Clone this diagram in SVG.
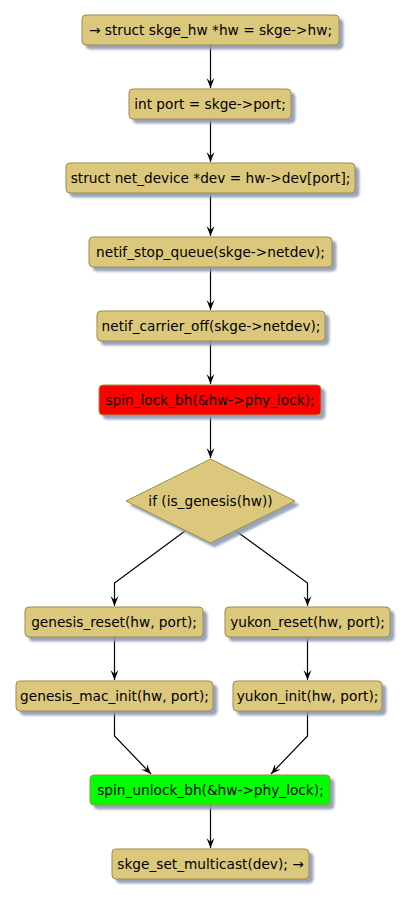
<svg xmlns="http://www.w3.org/2000/svg" width="408" height="898" viewBox="0 0 408 898">
<defs>
<filter id="sh" x="-10%" y="-20%" width="130%" height="160%">
<feGaussianBlur in="SourceAlpha" stdDeviation="1" result="b"/>
<feOffset in="b" dx="4" dy="4" result="o"/>
<feFlood flood-color="#8E9BB4" flood-opacity="0.9"/>
<feComposite in2="o" operator="in" result="s"/>
<feMerge><feMergeNode in="s"/><feMergeNode in="SourceGraphic"/></feMerge>
</filter>
<marker id="ah" viewBox="0 0 10 10" refX="10" refY="5" markerWidth="10" markerHeight="10" markerUnits="userSpaceOnUse" orient="auto">
<path d="M0,1 L10,5 L0,9 L4,5 Z" fill="#000"/>
</marker>
</defs>
<style>
.n{fill:#DCC87C;stroke:#A08B46;stroke-width:1;filter:url(#sh)}
.r{fill:#FF0000}
.g{fill:#00FF00}
text{font-family:"DejaVu Sans",sans-serif;font-size:13.7px;fill:#000;text-anchor:middle}
.c{stroke:#000;stroke-width:1.2;fill:none;marker-end:url(#ah)}
</style>
<rect width="408" height="898" fill="#fff"/>
<g id="connectors">
<path class="c" d="M210.5,45 V88"/>
<path class="c" d="M210.5,119 V162"/>
<path class="c" d="M210.5,193 V236"/>
<path class="c" d="M210.5,267 V310"/>
<path class="c" d="M210.5,341 V384"/>
<path class="c" d="M210.5,415 V458"/>
<path class="c" d="M185,531 L114.5,583 V606"/>
<path class="c" d="M236,531 L307.5,583 V606"/>
<path class="c" d="M114.5,637 V680"/>
<path class="c" d="M307.5,637 V680"/>
<path class="c" d="M114.5,711 V736 L151,774"/>
<path class="c" d="M307.5,711 V736 L271,774"/>
<path class="c" d="M210.5,805 V848"/>
</g>
<g id="n1"><rect class="n" x="82" y="15" width="257" height="30" rx="4"/><text x="210.5" y="35">→ struct skge_hw *hw = skge-&gt;hw;</text></g>
<g id="n2"><rect class="n" x="129" y="89" width="162" height="30" rx="4"/><text x="210" y="109">int port = skge-&gt;port;</text></g>
<g id="n3"><rect class="n" x="66" y="163" width="289" height="30" rx="4"/><text x="210.5" y="183">struct net_device *dev = hw-&gt;dev[port];</text></g>
<g id="n4"><rect class="n" x="89" y="237" width="243" height="30" rx="4"/><text x="210.5" y="257">netif_stop_queue(skge-&gt;netdev);</text></g>
<g id="n5"><rect class="n" x="97" y="311" width="228" height="30" rx="4"/><text x="211" y="331">netif_carrier_off(skge-&gt;netdev);</text></g>
<g id="n6"><rect class="n r" x="99" y="385" width="222" height="30" rx="4"/><text x="210" y="405">spin_lock_bh(&amp;hw-&gt;phy_lock);</text></g>
<g id="n7"><polygon class="n" points="210.5,459 295,501 210.5,543 126,501"/><text x="210.5" y="506">if (is_genesis(hw))</text></g>
<g id="n8"><rect class="n" x="25" y="607" width="178" height="30" rx="4"/><text x="114" y="627">genesis_reset(hw, port);</text></g>
<g id="n9"><rect class="n" x="225" y="607" width="165" height="30" rx="4"/><text x="307.5" y="627">yukon_reset(hw, port);</text></g>
<g id="n10"><rect class="n" x="16" y="681" width="197" height="30" rx="4"/><text x="114.5" y="701">genesis_mac_init(hw, port);</text></g>
<g id="n11"><rect class="n" x="233" y="681" width="149" height="30" rx="4"/><text x="307.5" y="701">yukon_init(hw, port);</text></g>
<g id="n12"><rect class="n g" x="90" y="775" width="240" height="30" rx="4"/><text x="210.5" y="795">spin_unlock_bh(&amp;hw-&gt;phy_lock);</text></g>
<g id="n13"><rect class="n" x="112" y="849" width="197" height="30" rx="4"/><text x="210.5" y="869">skge_set_multicast(dev); →</text></g>
</svg>
